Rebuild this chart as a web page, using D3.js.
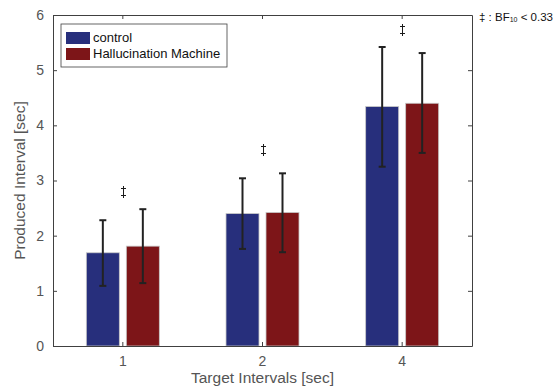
<!DOCTYPE html>
<html>
<head>
<meta charset="utf-8">
<script src="https://cdn.jsdelivr.net/npm/d3@7"></script>
<style>
  body { margin: 0; background: #fff; }
  text { font-family: "Liberation Sans", Arial, sans-serif; }
</style>
</head>
<body>
<div id="chart"></div>
<script>
// values
const categories = ["1", "2", "4"];
const seriesNames = ["control", "Hallucination Machine"];
const controlMean = [1.69, 2.40, 4.34];
const controlLow = [1.09, 1.76, 3.25];
const controlHigh = [2.28, 3.04, 5.42];
const hmMean = [1.81, 2.42, 4.40];
const hmLow = [1.14, 1.70, 3.50];
const hmHigh = [2.48, 3.13, 5.31];
const markerY = [2.80, 3.55, 5.72];
const yTicks = [0, 1, 2, 3, 4, 5, 6];

const colors = ["#272f7c", "#7d1518"];

const width = 557;
const height = 387;
const margin = {top: 15, right: 85, bottom: 41, left: 53};
const innerWidth = width - margin.left - margin.right;
const innerHeight = height - margin.top - margin.bottom;

const svg = d3.select("#chart")
    .append("svg")
    .attr("width", width)
    .attr("height", height);

const graph = svg.append("g")
    .attr("transform", `translate(${margin.left}, ${margin.top})`);

const xScale = d3.scaleBand()
    .domain(categories)
    .range([0, innerWidth]);

const yScale = d3.scaleLinear()
    .domain([0, 6])
    .range([innerHeight, 0]);

const barWidth = 33;
const offset = 20;

const series = [
    {name: seriesNames[0], mean: controlMean, low: controlLow, high: controlHigh, color: colors[0], dx: -offset},
    {name: seriesNames[1], mean: hmMean, low: hmLow, high: hmHigh, color: colors[1], dx: offset}
];

const center = c => xScale(c) + xScale.bandwidth() / 2;

// bars
series.forEach(s => {
    graph.selectAll(null)
        .data(categories)
        .enter()
        .append("rect")
        .attr("x", (c) => center(c) + s.dx - barWidth / 2)
        .attr("y", (c, i) => yScale(s.mean[i]))
        .attr("width", barWidth)
        .attr("height", (c, i) => innerHeight - yScale(s.mean[i]))
        .attr("fill", s.color)
        .attr("stroke", "#c8c8c8")
        .attr("stroke-width", 0.8);
});

// error bars
series.forEach(s => {
    const eb = graph.selectAll(null)
        .data(categories)
        .enter()
        .append("g")
        .attr("stroke", "#222")
        .attr("stroke-width", 2);
    eb.append("line")
        .attr("x1", c => center(c) + s.dx)
        .attr("x2", c => center(c) + s.dx)
        .attr("y1", (c, i) => yScale(s.low[i]))
        .attr("y2", (c, i) => yScale(s.high[i]));
    [s.low, s.high].forEach(arr => {
        eb.append("line")
            .attr("x1", c => center(c) + s.dx - 3.5)
            .attr("x2", c => center(c) + s.dx + 3.5)
            .attr("y1", (c, i) => yScale(arr[i]))
            .attr("y2", (c, i) => yScale(arr[i]));
    });
});

// double dagger markers, drawn as small strokes (a vertical with two cross bars)
const daggers = graph.selectAll(null)
    .data(categories)
    .enter()
    .append("g")
    .attr("transform", (c, i) => `translate(${Math.round(center(c)) + 0.5}, ${Math.round(yScale(markerY[i]))})`)
    .attr("stroke", "#1a1a1a")
    .attr("stroke-width", 1)
    .attr("fill", "none");
daggers.append("path").attr("d", "M0,-6V6");
daggers.append("path").attr("d", "M-2.5,-3.5H2.5M-2.5,3.5H2.5");

// axes: MATLAB-like box with inward ticks
const axisColor = "#404040";
const tickColor = "#555";

const xBottom = graph.append("g")
    .attr("transform", `translate(0, ${innerHeight})`)
    .call(d3.axisBottom(xScale).tickSizeInner(-4).tickSizeOuter(0).tickPadding(10));
const xTop = graph.append("g")
    .call(d3.axisTop(xScale).tickSizeInner(-4).tickSizeOuter(0));
const yLeft = graph.append("g")
    .call(d3.axisLeft(yScale).tickValues(yTicks).tickFormat(d3.format("d"))
        .tickSizeInner(-4).tickSizeOuter(0).tickPadding(9));
const yRight = graph.append("g")
    .attr("transform", `translate(${innerWidth}, 0)`)
    .call(d3.axisRight(yScale).tickValues(yTicks).tickSizeInner(-4).tickSizeOuter(0));

// the top and right sides only carry ticks
xTop.selectAll(".tick text").remove();
yRight.selectAll(".tick text").remove();

[xBottom, xTop, yLeft, yRight].forEach(ax => {
    ax.select(".domain").attr("stroke", axisColor);
    ax.selectAll(".tick line").attr("stroke", axisColor);
    ax.selectAll(".tick text")
        .attr("fill", tickColor)
        .attr("font-size", 14)
        .attr("font-family", "Liberation Sans, Arial, sans-serif");
});

// axis labels
svg.append("text")
    .attr("x", margin.left + innerWidth / 2)
    .attr("y", height - 4)
    .attr("text-anchor", "middle")
    .attr("font-size", 15.5)
    .attr("fill", tickColor)
    .text("Target Intervals [sec]");

svg.append("text")
    .attr("transform", `translate(25, ${margin.top + innerHeight / 2}) rotate(-90)`)
    .attr("text-anchor", "middle")
    .attr("font-size", 15.5)
    .attr("fill", tickColor)
    .text("Produced Interval [sec]");

// legend
const legend = svg.append("g")
    .attr("transform", "translate(61, 24)");
legend.append("rect")
    .attr("width", 166)
    .attr("height", 43)
    .attr("fill", "#fff")
    .attr("stroke", "#404040")
    .attr("stroke-width", 0.8);
series.forEach((s, i) => {
    legend.append("rect")
        .attr("x", 5)
        .attr("y", 8 + i * 16)
        .attr("width", 24)
        .attr("height", 12)
        .attr("fill", s.color);
    legend.append("text")
        .attr("x", 32)
        .attr("y", 14.5 + i * 16)
        .attr("dominant-baseline", "middle")
        .attr("font-size", 13)
        .attr("fill", "#111")
        .text(s.name);
});

// Bayes factor note
const note = svg.append("text")
    .attr("x", 479)
    .attr("y", 21)
    .attr("font-size", 11.5)
    .attr("font-family", "Open Sans, sans-serif")
    .attr("fill", "#111");
note.append("tspan").text("‡ : BF");
note.append("tspan").attr("font-size", 7).attr("dy", 1).text("10");
note.append("tspan").attr("dy", -1).text(" < 0.33");
</script>
</body>
</html>
